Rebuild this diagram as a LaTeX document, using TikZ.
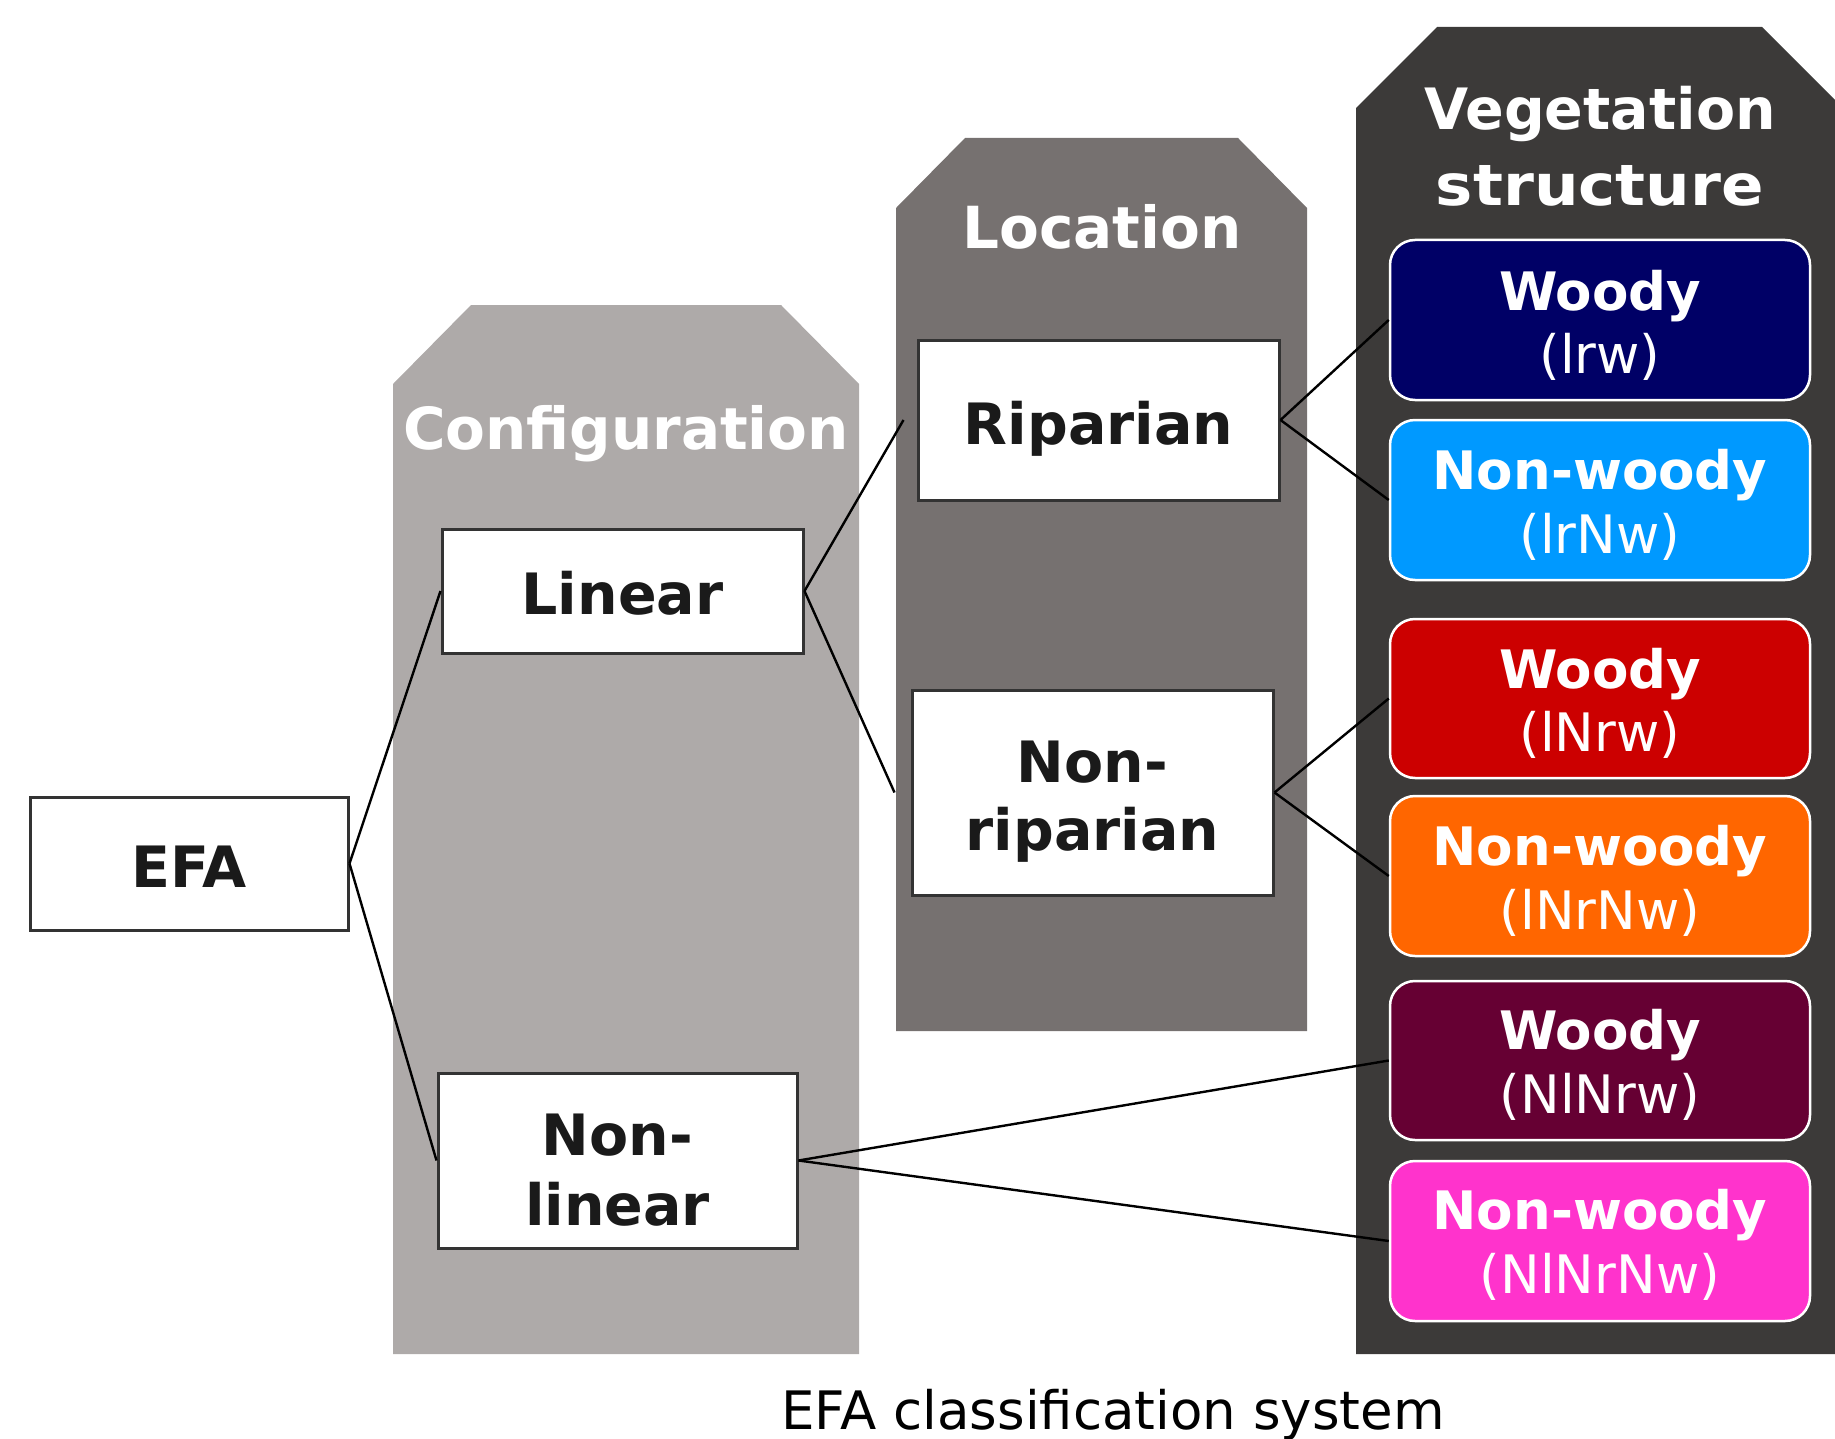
\documentclass[tikz,border=0pt]{standalone}
\usepackage{fontspec}
\setmainfont{DejaVu Sans}
\definecolor{cfgc}{HTML}{AEAAA9}
\definecolor{locc}{HTML}{767170}
\definecolor{vegc}{HTML}{3C3A39}
\definecolor{navyc}{HTML}{000066}
\definecolor{skyc}{HTML}{0099FF}
\definecolor{redc}{HTML}{CC0000}
\definecolor{orangec}{HTML}{FF6600}
\definecolor{maroonc}{HTML}{660033}
\definecolor{pinkc}{HTML}{FF33CC}
\definecolor{txtc}{HTML}{1A1A1A}
\definecolor{bordc}{HTML}{333333}
\begin{document}
\begin{tikzpicture}[x=1pt,y=-1pt,
  wbox/.style={draw=bordc,line width=3pt,fill=white,inner sep=0pt},
  cbox/.style={draw=white,line width=2.5pt,rounded corners=25pt,inner sep=0pt,minimum width=420pt},
  wtxt/.style={text=txtc,inner sep=0pt,anchor=base,font=\fontsize{57}{69}\selectfont\bfseries},
  ctop/.style={text=white,inner sep=0pt,anchor=base,font=\fontsize{53}{63}\selectfont\bfseries},
  cbot/.style={text=white,inner sep=0pt,anchor=base,font=\fontsize{53}{63}\selectfont},
  head/.style={text=white,inner sep=0pt,anchor=base,font=\fontsize{58}{76}\selectfont\bfseries},
  conn/.style={draw=black,line width=2.4pt}]
\useasboundingbox (0,0) rectangle (1835,1439);
% panels
\fill[cfgc] (393,1354) -- (393,384) -- (471,305) -- (781,305) -- (859,384) -- (859,1354) -- cycle;
\fill[locc] (896,1031) -- (896,208) -- (965,138) -- (1238,138) -- (1307,208) -- (1307,1031) -- cycle;
\fill[vegc] (1356,1354) -- (1356,108) -- (1437,27) -- (1762,27) -- (1843,108) -- (1843,1354) -- cycle;
% headings
\node[head] (cfgt) at (626,449) {Configuration};
\node[head] (loct) at (1102,249) {Location};
\node[head,font=\fontsize{57}{76}\selectfont\bfseries] (vegt1) at (1600,130) {Vegetation};
\node[head,font=\fontsize{57}{76}\selectfont\bfseries] (vegt2) at (1600,206) {\scalebox{1.1}[1]{structure}};
% white boxes
\node[wbox,minimum width=318pt,minimum height=133pt] (efa) at (189,863.5) {};
\node[wbox,minimum width=361pt,minimum height=124pt] (lin) at (622.5,591) {};
\node[wbox,minimum width=359pt,minimum height=175pt] (nlin) at (617.5,1160.5) {};
\node[wbox,minimum width=361pt,minimum height=160pt] (rip) at (1098.5,420) {};
\node[wbox,minimum width=361pt,minimum height=205pt] (nrip) at (1092.5,792.5) {};
\node[wtxt] (efat) at (189,887) {EFA};
\node[wtxt] (lint) at (622.5,614) {Linear};
\node[wtxt] (nlint1) at (617.5,1155) {Non-};
\node[wtxt] (nlint2) at (617.5,1225) {linear};
\node[wtxt] (ript) at (1098.5,444) {Riparian};
\node[wtxt] (nript1) at (1092.5,782) {Non-};
\node[wtxt] (nript2) at (1092.5,850) {riparian};
% coloured boxes
\node[cbox,fill=navyc,minimum height=160pt] (w1) at (1600,320) {};
\node[cbox,fill=skyc,minimum height=160pt] (n1) at (1600,500) {};
\node[cbox,fill=redc,minimum height=159pt] (w2) at (1600,698.5) {};
\node[cbox,fill=orangec,minimum height=160pt] (n2) at (1600,876) {};
\node[cbox,fill=maroonc,minimum height=159pt] (w3) at (1600,1060.5) {};
\node[cbox,fill=pinkc,minimum height=160pt] (n3) at (1600,1241) {};
\node[ctop] (w1a) at (1600,310) {Woody};
\node[cbot] (w1b) at (1600,373) {(lrw)};
\node[ctop] (n1a) at (1600,489) {Non-woody};
\node[cbot] (n1b) at (1600,553) {(lrNw)};
\node[ctop] (w2a) at (1600,688) {Woody};
\node[cbot] (w2b) at (1600,751) {(lNrw)};
\node[ctop] (n2a) at (1600,865) {Non-woody};
\node[cbot] (n2b) at (1600,929) {(lNrNw)};
\node[ctop] (w3a) at (1600,1049) {Woody};
\node[cbot] (w3b) at (1600,1113) {(NlNrw)};
\node[ctop] (n3a) at (1600,1229) {Non-woody};
\node[cbot] (n3b) at (1600,1293) {(NlNrNw)};
% connectors
\draw[conn] (efa.east) -- (lin.west);
\draw[conn] (efa.east) -- (nlin.west);
\draw[conn] (lin.east) -- ([xshift=-13pt]rip.west);
\draw[conn] (lin.east) -- ([xshift=-16pt]nrip.west);
\draw[conn] (rip.east) -- (w1.west);
\draw[conn] (rip.east) -- (n1.west);
\draw[conn] (nrip.east) -- (w2.west);
\draw[conn] (nrip.east) -- (n2.west);
\draw[conn] (nlin.east) -- (w3.west);
\draw[conn] (nlin.east) -- (n3.west);
% caption
\node[anchor=base,inner sep=0pt,text=black,font=\fontsize{53}{63}\selectfont] (cap) at (1113,1429) {EFA classification system};
\end{tikzpicture}
\end{document}
